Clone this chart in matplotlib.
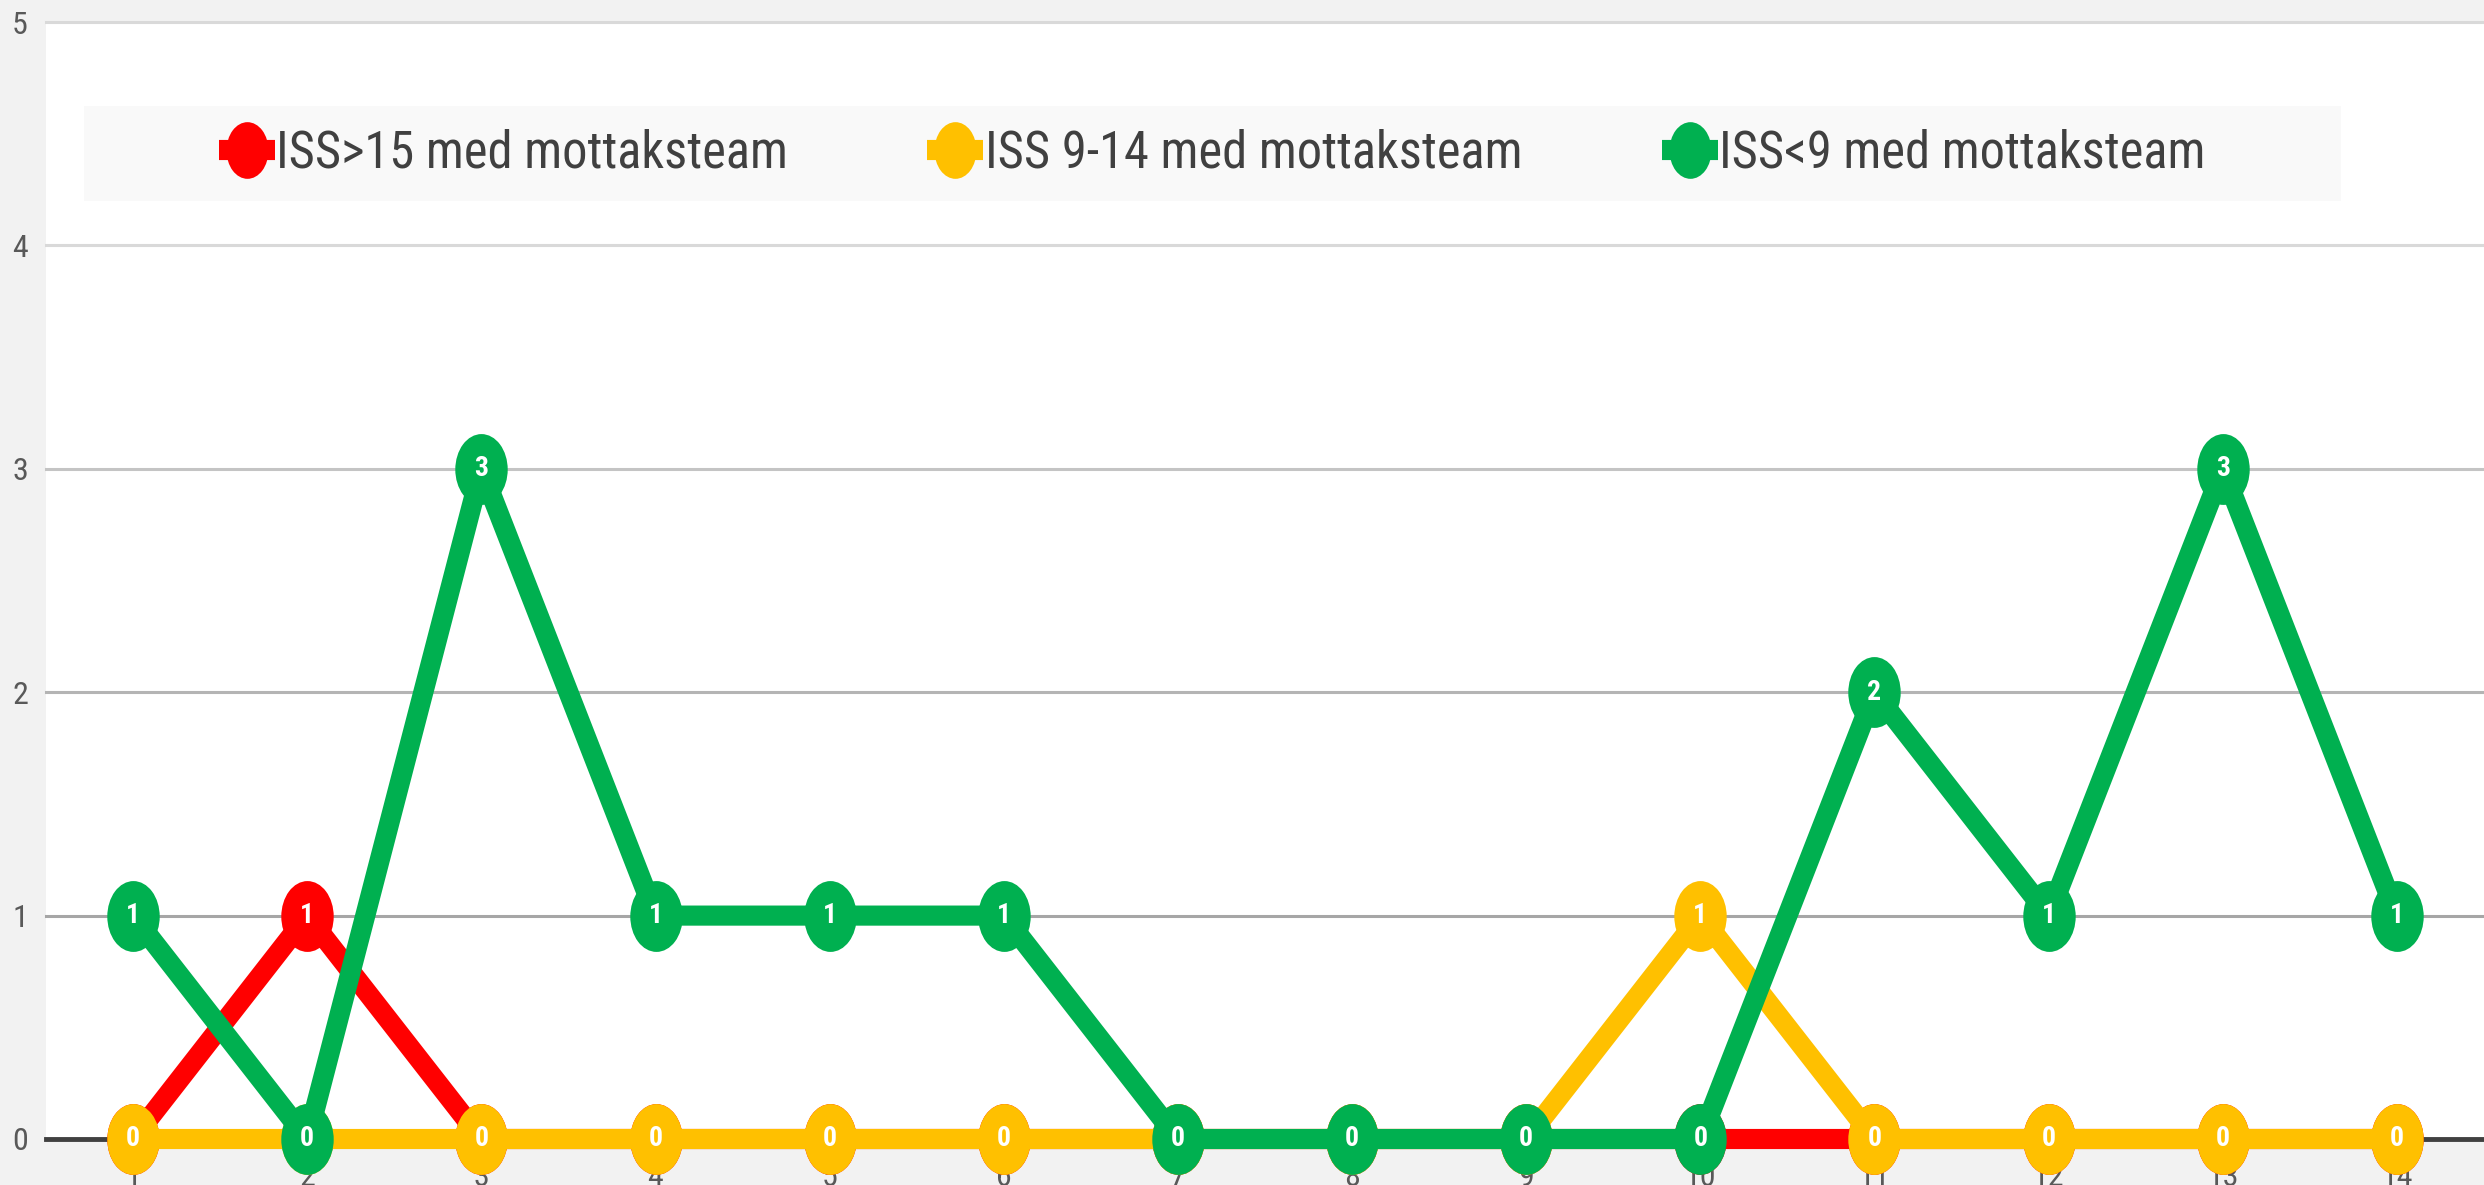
import numpy as np
import matplotlib
matplotlib.use("Agg")
import matplotlib.pyplot as plt
from matplotlib import font_manager
from matplotlib.path import Path
from matplotlib.transforms import Affine2D
from matplotlib.patches import Rectangle
from matplotlib.textpath import TextPath
from matplotlib.font_manager import FontProperties

# data
weeks = list(range(1, 15))
series_names = ["ISS>15 med mottaksteam", "ISS 9-14 med mottaksteam", "ISS<9 med mottaksteam"]
iss_high = [0, 1, 0, 0, 0, 0, 0, 0, 0, 0, 0, 0, 0, 0]
iss_mid = [0, 0, 0, 0, 0, 0, 0, 0, 0, 1, 0, 0, 0, 0]
iss_low = [1, 0, 3, 1, 1, 1, 0, 0, 0, 0, 2, 1, 3, 1]
y_ticks = [0, 1, 2, 3, 4, 5]

colors = ["#ff0000", "#ffc000", "#00b050"]

# look for a condensed font, the reference text is very narrow
names = sorted({f.name for f in font_manager.fontManager.ttflist})
narrow = None
for pref in ["Liberation Sans Narrow", "Roboto Condensed", "Open Sans Condensed",
             "Noto Sans Condensed", "DejaVu Sans Condensed"]:
    if pref in names:
        narrow = pref
        break
if narrow is None:
    cands = [n for n in names if "Narrow" in n or "Condensed" in n]
    narrow = cands[0] if cands else "Liberation Sans"
plt.rcParams["font.family"] = [narrow, "DejaVu Sans"]

# pick legend size so the first label is about as wide as in the reference
tp = TextPath((0, 0), series_names[0], size=100, prop=FontProperties(family=[narrow, "DejaVu Sans"]))
w100 = tp.get_extents().width  # in points at size 100
leg_fs = min(42, 100 * (505 * 0.72) / w100)
leg_px = leg_fs / 0.72

W, H = 2484, 1185
fig = plt.figure(figsize=(W / 100, H / 100), dpi=100, facecolor="#f2f2f2")
ax = fig.add_axes([46 / W, 46 / H, (W - 46) / W, (1139 - 22) / H])
ax.set_facecolor("white")

# squashed ellipse marker like the reference
ellipse = Path.unit_circle().transformed(Affine2D().scale(0.74, 1.0))

lw = 14.5
ms = 51
for k, (vals, c) in enumerate(zip([iss_high, iss_mid, iss_low], colors)):
    z = 3 + k
    ax.plot(weeks, vals, color=c, lw=lw, marker=ellipse, ms=ms,
            markeredgewidth=0, solid_capstyle="butt", zorder=z,
            clip_on=False, label=series_names[k])
    for x, v in zip(weeks, vals):
        ax.text(x, v, str(v), color="white", fontsize=20, fontweight="bold",
                ha="center", va="center", zorder=z + 0.5)

ax.set_xlim(0.5, 14.5)
ax.set_ylim(0, 5)
ax.set_xticks(weeks)
ax.set_yticks(y_ticks)
for s in ax.spines.values():
    s.set_visible(False)
ax.tick_params(axis="both", length=0, colors="#595959", labelsize=23)
ax.tick_params(axis="y", pad=13)
ax.tick_params(axis="x", pad=17)

ax.grid(axis="y", color="#d9d9d9", lw=2.2, zorder=1)
ax.set_axisbelow(True)
grid_cols = ["#d9d9d9", "#a6a6a6", "#b4b4b4", "#c4c4c4", "#d9d9d9", "#d9d9d9"]
for gl, gc in zip(ax.get_ygridlines(), grid_cols):
    gl.set_color(gc)
    gl.set_clip_on(False)
ax.axhline(0, color="#404040", lw=3.5, zorder=2, clip_on=False)

# legend box
fig.patches.append(Rectangle((84 / W, 1 - 201 / H), (2341 - 84) / W, 95 / H,
                             transform=fig.transFigure, facecolor="#f9f9f9",
                             edgecolor="none", zorder=1))
leg = fig.legend(loc="center", bbox_to_anchor=(1212 / W, 1 - 153.5 / H), ncol=3,
                 frameon=False, fontsize=leg_fs, handlelength=56 / leg_px,
                 handletextpad=0.02, columnspacing=140 / leg_px,
                 markerscale=0.8, labelcolor="#404040")
leg.set_zorder(6)

fig.savefig("out.png", dpi=100, facecolor=fig.get_facecolor())
